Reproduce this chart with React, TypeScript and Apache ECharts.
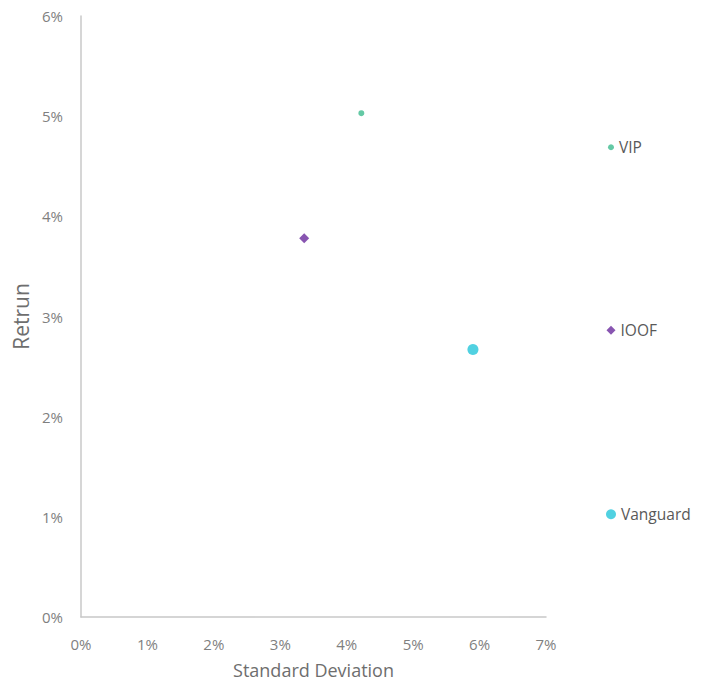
import React, { useEffect, useRef } from "react";
import * as echarts from "echarts";

const seriesNames = ["VIP", "IOOF", "Vanguard"];
const stdDev = [4.22, 3.36, 5.9];
const returns = [5.03, 3.78, 2.67];
const colors = ["#3dbb8f", "#6a2b9e", "#26c6da"];
const symbols = ["circle", "diamond", "circle"];
const symbolSizes = [6, 10, 11];
const legendIconSizes = [6, 9, 10];
const legendCenters = [147, 330, 514];
const xTicks = [0, 1, 2, 3, 4, 5, 6, 7];
const yTicks = [0, 1, 2, 3, 4, 5, 6];

export default function App() {
  const ref = useRef<HTMLDivElement>(null);
  useEffect(() => {
    document.body.style.margin = "0";
    const chart = echarts.init(ref.current!, undefined, { renderer: "svg" });
    const font = "'Open Sans', 'Noto Sans', sans-serif";
    const legendFont = 15.5;
    chart.setOption({
      animation: false,
      textStyle: { fontFamily: font },
      grid: { left: 81, right: 163, top: 16, bottom: 69 },
      xAxis: {
        type: "value",
        min: xTicks[0],
        max: xTicks[xTicks.length - 1],
        interval: 1,
        name: "Standard Deviation",
        nameLocation: "middle",
        nameGap: 44,
        nameTextStyle: { color: "#6e6e6e", fontSize: 18, fontFamily: font },
        axisLine: { show: true, lineStyle: { color: "#c8c8c8", width: 1.5 } },
        axisTick: { show: false },
        splitLine: { show: false },
        axisLabel: { color: "#7f7f7f", fontSize: 15, margin: 19, formatter: "{value}%", fontFamily: font },
      },
      yAxis: {
        type: "value",
        min: yTicks[0],
        max: yTicks[yTicks.length - 1],
        interval: 1,
        name: "Retrun",
        nameLocation: "middle",
        nameGap: 47,
        nameTextStyle: { color: "#6e6e6e", fontSize: 21, fontFamily: font },
        axisLine: { show: true, lineStyle: { color: "#c8c8c8", width: 1.5 } },
        axisTick: { show: false },
        splitLine: { show: false },
        axisLabel: { color: "#7f7f7f", fontSize: 15, margin: 18, formatter: "{value}%", fontFamily: font },
      },
      legend: seriesNames.map((n, i) => ({
        data: [{ name: n, icon: symbols[i] }],
        orient: "vertical",
        padding: 0,
        left: 611 - legendIconSizes[i] / 2,
        top: legendCenters[i] - legendFont / 2,
        itemWidth: legendIconSizes[i],
        itemHeight: legendIconSizes[i],
        itemGap: 4,
        textStyle: { color: "#595959", fontSize: legendFont, fontFamily: font },
      })),
      series: seriesNames.map((n, i) => ({
        name: n,
        type: "scatter",
        symbol: symbols[i],
        symbolSize: symbolSizes[i],
        itemStyle: { color: colors[i] },
        data: [[stdDev[i], returns[i]]],
      })),
    });
    return () => chart.dispose();
  }, []);
  return <div ref={ref} style={{ width: 709, height: 686 }} />;
}
